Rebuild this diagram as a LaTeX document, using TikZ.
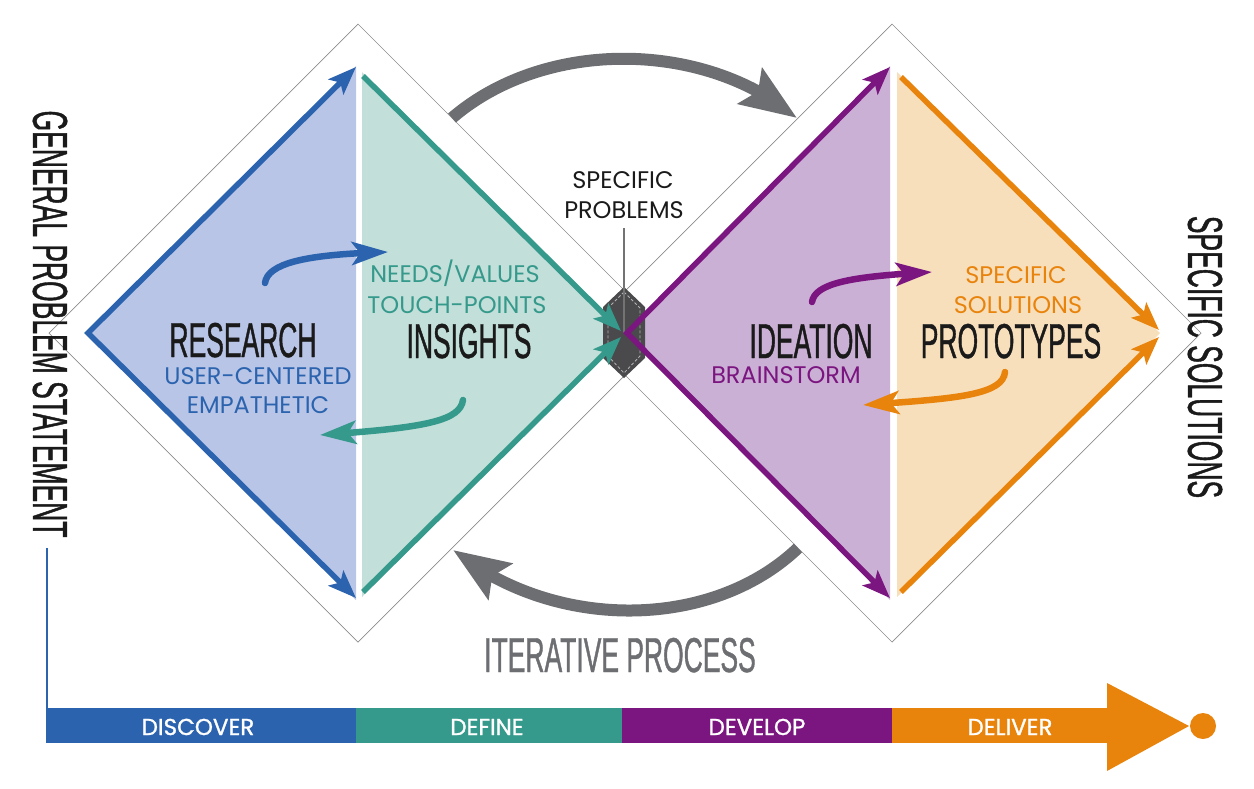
\documentclass[tikz,border=0pt]{standalone}
\usepackage{fontspec}
\setmainfont{Poppins}
\newfontfamily\condf[FakeStretch=0.54,FakeBold=0.8]{Liberation Sans}
\newfontfamily\popbold[FakeBold=1.2]{Poppins}
\usetikzlibrary{arrows.meta,bending}
\definecolor{cblue}{HTML}{2B63AE}
\definecolor{cteal}{HTML}{35998B}
\definecolor{cpurple}{HTML}{7B1580}
\definecolor{corange}{HTML}{E8830C}
\definecolor{fblue}{HTML}{B8C5E7}
\definecolor{fteal}{HTML}{C2DFD9}
\definecolor{fpurple}{HTML}{CBB0D6}
\definecolor{forange}{HTML}{F8DFBC}
\definecolor{cgray}{HTML}{6D6E71}
\definecolor{cdark}{HTML}{4A4A4C}
\definecolor{ctext}{HTML}{1A1A1A}
\tikzset{
  outline/.style={draw=black!45, line width=0.7pt},
  edge/.style={line width=5.5pt, line join=miter},
  curvy/.style={line width=6.5pt, line cap=round, -{Stealth[length=36pt,width=23pt,inset=8pt,flex]}},
  bigarc/.style={draw=cgray, line width=12pt, -{Stealth[length=56pt,width=42pt,inset=9pt,flex]}},
  big/.style={font=\condf\fontsize{49}{49}\selectfont, inner sep=0pt, text=ctext},
  small/.style={font=\fontsize{24}{24}\selectfont, inner sep=0pt},
  barlabel/.style={font=\popbold\fontsize{23}{23}\selectfont, inner sep=0pt, text=white, anchor=base}
}
\begin{document}
\begin{tikzpicture}[x=1pt,y=-1pt]
\useasboundingbox (0,0) rectangle (1254,788);
% outer thin diamonds
\draw[outline] (358,24) -- (667,333) -- (358,642) -- (49,333) -- cycle;
\draw[outline] (892,24) -- (1201,333) -- (892,642) -- (583,333) -- cycle;
% fills
\fill[fblue] (88,333) -- (356,66) -- (356,600) -- cycle;
\fill[fteal] (362,72) -- (622,333) -- (362,597) -- cycle;
\fill[fpurple] (627,333) -- (890,66) -- (890,600) -- cycle;
\fill[forange] (897,72) -- (1160,333) -- (897,597) -- cycle;
% center dark shape
\fill[cdark] (624,287) -- (645,307) -- (645,358) -- (624,378) -- (603,358) -- (603,307) -- cycle;
\draw[black!30, line width=0.8pt, densely dashed] (624,292) -- (640,308) -- (640,356) -- (624,373) -- (608,356) -- (608,308) -- cycle;
% specific problems label and pointer
\node[small, anchor=base, text=ctext] (sp1) at (623,188) {SPECIFIC};
\node[small, anchor=base, text=ctext] (sp2) at (624,218) {PROBLEMS};
\coordinate (ptop) at (624,228);
\coordinate (pbot) at (624,333);
\draw[black!55, line width=1.2pt] (ptop) -- (pbot);
% blue edges
\draw[cblue, edge, {Stealth[length=28pt,width=21pt,inset=6pt]}-{Stealth[length=28pt,width=21pt,inset=6pt]}] (356,67) -- (88,333) -- (356,598);
% teal edges
\draw[cteal, edge, -{Stealth[length=28pt,width=21pt,inset=6pt]}] (363,76) -- (621,331);
\draw[cteal, edge, -{Stealth[length=28pt,width=21pt,inset=6pt]}] (363,592) -- (621,337);
% purple edges
\draw[cpurple, edge, {Stealth[length=28pt,width=21pt,inset=6pt]}-{Stealth[length=28pt,width=21pt,inset=6pt]}] (890,67) -- (627,333) -- (890,598);
% orange edges
\draw[corange, edge, -{Stealth[length=28pt,width=21pt,inset=6pt]}] (901,77) -- (1159,330);
\draw[corange, edge, -{Stealth[length=28pt,width=21pt,inset=6pt]}] (901,592) -- (1159,337);
% small curved arrows
\draw[cblue, curvy] (265,283) .. controls (268,260) and (320,254) .. (388,252);
\draw[cteal, curvy] (463,400) .. controls (460,422) and (420,428) .. (320,435);
\draw[cpurple, curvy] (812,302) .. controls (815,281) and (862,276) .. (932,272);
\draw[corange, curvy] (1005,372) .. controls (1003,396) and (950,399) .. (863,405);
% big gray arcs
\coordinate (a1s) at (452,118);
\coordinate (a1e) at (797,118);
\coordinate (a2s) at (798,548);
\coordinate (a2e) at (453,550);
\draw[bigarc] (a1s) .. controls (545,38) and (705,40) .. (a1e);
\draw[bigarc] (a2s) .. controls (712,630) and (555,632) .. (a2e);
% big labels
\node[big, anchor=base] (research) at (243,357) {RESEARCH};
\node[big, anchor=base] (insights) at (469,358) {INSIGHTS};
\node[big, anchor=base] (ideation) at (811,358) {IDEATION};
\node[big, anchor=base] (prototypes) at (1011,358) {PROTOTYPES};
\node[big, anchor=base, text=cgray] (iter) at (620,672) {ITERATIVE PROCESS};
\node[big, rotate=-90] (gps) at (50,324) {GENERAL PROBLEM STATEMENT};
\node[big, rotate=-90] (ss) at (1205,357) {SPECIFIC SOLUTIONS};
% sub labels
\node[small, anchor=base, text=cblue] (uc) at (258,384) {USER-CENTERED};
\node[small, anchor=base, text=cblue] (emp) at (258,413) {EMPATHETIC};
\node[small, anchor=base, text=cteal] (nv) at (455,282) {NEEDS/VALUES};
\node[small, anchor=base, text=cteal] (tp) at (457,313) {TOUCH-POINTS};
\node[small, anchor=base, text=cpurple] (bs) at (786,383) {BRAINSTORM};
\node[small, anchor=base, text=corange] (so1) at (1016,283) {SPECIFIC};
\node[small, anchor=base, text=corange] (so2) at (1018,313) {SOLUTIONS};
% bottom bar
\coordinate (vtop) at (47,548);
\coordinate (vbot) at (47,708);
\draw[cblue, line width=2pt] (vtop) -- (vbot);
\fill[cblue] (46,708) rectangle (356,743);
\fill[cteal] (356,708) rectangle (622,743);
\fill[cpurple] (622,708) rectangle (892,743);
\fill[corange] (892,708) rectangle (1108,743);
\fill[corange] (1107,683) -- (1189,726) -- (1107,771) -- cycle;
\fill[corange] (1203,726) circle[radius=13];
\node[barlabel] (l1) at (198,735) {DISCOVER};
\node[barlabel] (l2) at (487,735) {DEFINE};
\node[barlabel] (l3) at (757,735) {DEVELOP};
\node[barlabel] (l4) at (1010,735) {DELIVER};
\end{tikzpicture}
\end{document}
